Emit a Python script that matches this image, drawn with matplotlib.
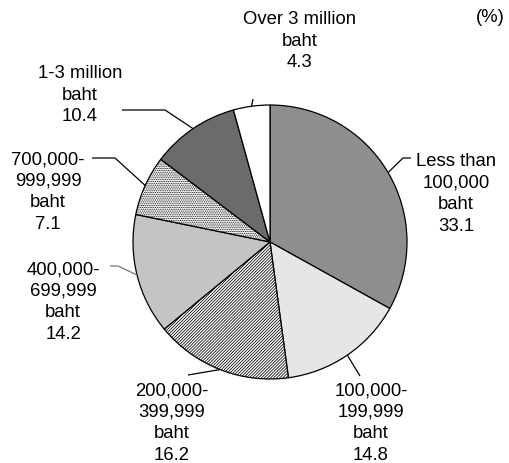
import numpy as np
import matplotlib.pyplot as plt

plt.rcParams['font.family'] = ['Liberation Sans', 'DejaVu Sans']
plt.rcParams['hatch.linewidth'] = 0.55

# =========================
# DATA
# =========================
categories = [
    "Less than\n100,000\nbaht",
    "100,000-\n199,999\nbaht",
    "200,000-\n399,999\nbaht",
    "400,000-\n699,999\nbaht",
    "700,000-\n999,999\nbaht",
    "1-3 million\nbaht",
    "Over 3 million\nbaht",
]
shares = [33.1, 14.8, 16.2, 14.2, 7.1, 10.4, 4.3]

colors = ["#8e8e8e", "#e6e6e6", "white", "#c3c4c3", "white", "#6b6b6b", "white"]
hatches = [None, None, "/" * 11, None, "." * 9, None, None]

# label text centre (pixels, y down) and elbow point of leader line
label_pos = [(456, 194), (371, 423), (172, 423), (63, 302), (48, 192), (80, 95), (300, 41)]
elbows = [(403, 159), None, None, (118, 267), (115, 159), (165, 111), None]
line_starts = [(411, 159), (360, 377), (188, 376), (110, 267), (92, 159), (122, 111), (253, 100)]
line_colors = ["black", "black", "black", "#777777", "black", "black", "black"]

W, H = 509, 464
CX, CY, R = 270, 243, 137


def up(y):
    return H - y


fig = plt.figure(figsize=(W / 100, H / 100), dpi=100)
ax = fig.add_axes([0, 0, 1, 1])

wedges, _ = ax.pie(shares, colors=colors, startangle=90, counterclock=False,
                   center=(CX, up(CY)), radius=R,
                   wedgeprops=dict(edgecolor="black", linewidth=0.9))
for w, h in zip(wedges, hatches):
    if h:
        w.set_hatch(h)

total = sum(shares)
cum = 0
for i, (cat, val) in enumerate(zip(categories, shares)):
    mid = (cum + val / 2) / total * 2 * np.pi
    cum += val
    ex = CX + R * np.sin(mid)
    ey = CY - R * np.cos(mid)
    pts = [line_starts[i]]
    if elbows[i]:
        pts.append(elbows[i])
    pts.append((ex, ey))
    ax.plot([p[0] for p in pts], [up(p[1]) for p in pts],
            color=line_colors[i], lw=0.9, solid_capstyle="butt")
    tx, ty = label_pos[i]
    ax.text(tx, up(ty), f"{cat}\n{val}", ha="center", va="center",
            multialignment="center", fontsize=13.3, linespacing=1.34)

ax.text(490, up(17), "(%)", ha="center", va="center", fontsize=13.3)

ax.set_xlim(0, W)
ax.set_ylim(0, H)
ax.axis("off")

fig.savefig("out.png", dpi=100)
